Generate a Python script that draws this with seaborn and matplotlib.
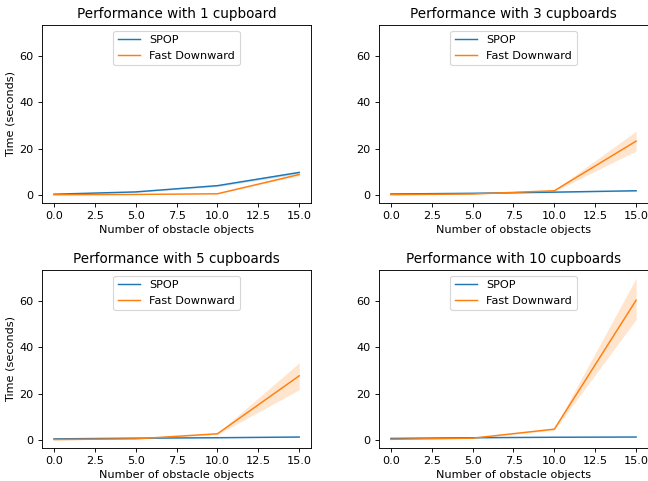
import pandas as pd
import matplotlib
matplotlib.use('Agg')
import matplotlib.pyplot as plt
import seaborn as sns

# obstacle counts on the x axis
obstacles = [0.0, 5.0, 10.0, 15.0]
cupboards = [1, 3, 5, 10]

# mean solve time (seconds), per cupboard count
spop_mean = {
    1: [0.3, 1.3, 4.0, 9.7],
    3: [0.4, 0.7, 1.2, 1.8],
    5: [0.5, 0.8, 1.0, 1.3],
    10: [0.7, 1.0, 1.2, 1.3],
}
spop_lo = {
    1: [0.2, 1.1, 3.6, 9.1],
    3: [0.3, 0.6, 1.0, 1.6],
    5: [0.4, 0.7, 0.9, 1.1],
    10: [0.6, 0.9, 1.1, 1.2],
}
spop_hi = {
    1: [0.4, 1.5, 4.4, 10.3],
    3: [0.5, 0.8, 1.4, 2.0],
    5: [0.6, 0.9, 1.1, 1.5],
    10: [0.8, 1.1, 1.3, 1.4],
}
fd_mean = {
    1: [0.1, 0.2, 0.5, 8.8],
    3: [0.1, 0.4, 1.8, 23.2],
    5: [0.2, 0.5, 2.7, 27.7],
    10: [0.3, 0.8, 4.7, 60.3],
}
fd_lo = {
    1: [0.05, 0.15, 0.4, 8.3],
    3: [0.05, 0.3, 1.5, 19.0],
    5: [0.1, 0.4, 2.4, 21.7],
    10: [0.2, 0.7, 4.3, 52.0],
}
fd_hi = {
    1: [0.15, 0.25, 0.6, 9.3],
    3: [0.15, 0.5, 2.1, 27.5],
    5: [0.3, 0.6, 3.0, 33.3],
    10: [0.4, 0.9, 5.1, 69.8],
}

planners = [('SPOP', spop_mean, spop_lo, spop_hi),
            ('Fast Downward', fd_mean, fd_lo, fd_hi)]
colors = ['#1f77b4', '#ff7f0e']

dpi = 81
fig, axes = plt.subplots(2, 2, figsize=(649 / dpi, 481 / dpi), dpi=dpi, sharey=True)

for ax, n in zip(axes.flat, cupboards):
    for (name, mean, lo, hi), c in zip(planners, colors):
        df = pd.DataFrame({'x': obstacles, 'y': mean[n]})
        sns.lineplot(data=df, x='x', y='y', ax=ax, color=c, linewidth=1.3, label=name)
        ax.fill_between(obstacles, lo[n], hi[n], color=c, alpha=0.2, linewidth=0)
    title = 'Performance with 1 cupboard' if n == 1 else f'Performance with {n} cupboards'
    ax.set_title(title)
    ax.set_xlabel('Number of obstacle objects')
    ax.set_ylabel('Time (seconds)')
    ax.yaxis.set_tick_params(labelleft=True)
    ax.legend(loc='upper center')

plt.subplots_adjust(left=0.0643, right=0.999, top=0.948, bottom=0.0686,
                    wspace=0.249, hspace=0.378)
plt.savefig('out.png', dpi=dpi)
